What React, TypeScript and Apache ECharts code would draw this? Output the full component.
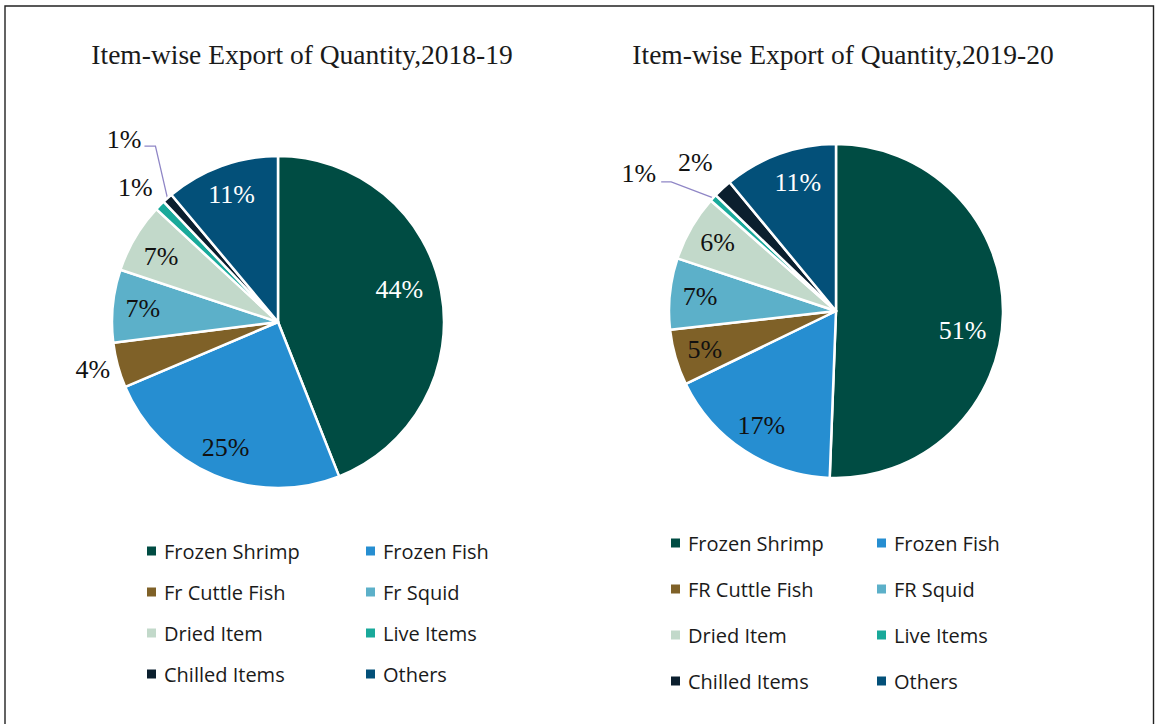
import React, { useEffect, useRef } from 'react';
import * as echarts from 'echarts';

const ITEMS_1819 = ['Frozen Shrimp', 'Frozen Fish', 'Fr Cuttle Fish', 'Fr Squid', 'Dried Item', 'Live Items', 'Chilled Items', 'Others'];
const ITEMS_1920 = ['Frozen Shrimp', 'Frozen Fish', 'FR Cuttle Fish', 'FR Squid', 'Dried Item', 'Live Items', 'Chilled Items', 'Others'];
const SHARE_1819 = [44.0, 24.6, 4.4, 7.1, 6.8, 1.0, 1.0, 11.1];
const SHARE_1920 = [50.6, 17.2, 5.4, 6.9, 6.4, 0.7, 1.8, 11.0];
const TITLE_1819 = 'Item-wise Export of Quantity,2018-19';
const TITLE_1920 = 'Item-wise Export of Quantity,2019-20';

const COLORS = ['#004c43', '#268ed1', '#7f6128', '#5cb0c9', '#c2d9ca', '#19a99a', '#0b1f2e', '#035079'];
const LABEL_COLORS = ['#ffffff', '#111111', '#111111', '#111111', '#111111', '#111111', '#111111', '#ffffff'];
const SERIF = '"Liberation Serif", "Times New Roman", serif';
const SANS = '"Open Sans", "Noto Sans", sans-serif';
const LEADER = '#8f86c6';

function mainPie(names: string[], values: number[], center: number[], R: number) {
  return {
    type: 'pie',
    center,
    radius: [0, R],
    startAngle: 90,
    clockwise: true,
    silent: true,
    label: { show: false },
    labelLine: { show: false },
    itemStyle: { borderColor: '#ffffff', borderWidth: 2.5 },
    emphasis: { disabled: true },
    data: names.map((n, i) => ({ name: n, value: values[i], itemStyle: { color: COLORS[i] } })),
  };
}

function labelPie(
  names: string[],
  values: number[],
  center: number[],
  R: number,
  outside: number[],
  lined: number[],
  layout: (p: any) => any
) {
  return {
    type: 'pie',
    center,
    radius: [R * 0.6, R],
    startAngle: 90,
    clockwise: true,
    silent: true,
    avoidLabelOverlap: false,
    itemStyle: { color: 'rgba(0,0,0,0)', borderWidth: 0 },
    emphasis: { disabled: true },
    label: {
      show: true,
      position: 'inside',
      formatter: (p: any) => Math.round(p.percent) + '%',
      fontFamily: SERIF,
      fontSize: 26,
      fontWeight: 'normal',
    },
    labelLine: { show: false, length: 10, length2: 0 },
    labelLayout: layout,
    data: names.map((n, i) => ({
      name: n,
      value: values[i],
      label: { color: LABEL_COLORS[i], position: outside.includes(i) ? 'outside' : 'inside' },
      labelLine: {
        show: lined.includes(i),
        length: 10,
        length2: 0,
        lineStyle: { color: LEADER, width: 1.3 },
      },
    })),
  };
}

const layout1819 = (p: any) => {
  const i = p.dataIndex;
  if (i === 0) return { dx: -12, dy: -7 };
  if (i === 2) return { dx: 7, dy: 2 };
  if (i === 4) return { dy: 4 };
  if (i === 5) return { dx: 5, dy: -11 };
  if (i === 6) {
    const a = p.labelLinePoints && p.labelLinePoints[0];
    if (!a) return {};
    return {
      x: a[0] - 26,
      y: a[1] - 59,
      align: 'right',
      verticalAlign: 'middle',
      labelLinePoints: [
        [a[0], a[1]],
        [a[0] - 12, a[1] - 52],
        [a[0] - 23, a[1] - 52],
      ],
    };
  }
  return {};
};

const layout1920 = (p: any) => {
  const i = p.dataIndex;
  if (i === 0) return { dx: -10, dy: 17 };
  if (i === 7) return { dx: 8 };
  if (i === 6) return { dx: 2, dy: -19 };
  if (i === 5) {
    const a = p.labelLinePoints && p.labelLinePoints[0];
    if (!a) return {};
    return {
      x: a[0] - 57,
      y: a[1] - 24,
      align: 'right',
      verticalAlign: 'middle',
      labelLinePoints: [
        [a[0], a[1]],
        [a[0] - 42, a[1] - 16],
        [a[0] - 52, a[1] - 16],
      ],
    };
  }
  return {};
};

const legendCommon = {
  orient: 'vertical',
  icon: 'rect',
  itemWidth: 9,
  itemHeight: 9,
  padding: 0,
  selectedMode: false,
  itemStyle: { borderWidth: 0 },
  textStyle: { fontFamily: SANS, fontSize: 20, color: '#1a1a1a', lineHeight: 20, padding: [0, 0, 0, 3] },
};

const titleStyle = { fontFamily: SERIF, fontSize: 27.5, fontWeight: 'normal', color: '#1a1a1a' };

export default function App() {
  const ref = useRef<HTMLDivElement>(null);

  useEffect(() => {
    document.body.style.margin = '0';
    if (!ref.current) return;
    const chart = echarts.init(ref.current, undefined, { renderer: 'svg' });
    const C1 = [278, 322];
    const R1 = 166;
    const C2 = [836, 311];
    const R2 = 167;
    chart.setOption({
      animation: false,
      backgroundColor: '#ffffff',
      title: [
        { text: TITLE_1819, left: 302, top: 40, textAlign: 'center', padding: 0, textStyle: titleStyle },
        { text: TITLE_1920, left: 843, top: 40, textAlign: 'center', padding: 0, textStyle: titleStyle },
      ],
      graphic: [
        {
          type: 'rect',
          shape: { x: 5, y: 6, width: 1148.5, height: 740 },
          style: { fill: 'none', stroke: '#222222', lineWidth: 1.4 },
          silent: true,
        },
      ],
      legend: [
        { ...legendCommon, data: [0, 2, 4, 6].map((i) => ITEMS_1819[i]), left: 147, top: 541, itemGap: 21 },
        { ...legendCommon, data: [1, 3, 5, 7].map((i) => ITEMS_1819[i]), left: 366, top: 541, itemGap: 21 },
        { ...legendCommon, data: [0, 2, 4, 6].map((i) => ITEMS_1920[i]), left: 671, top: 533, itemGap: 26 },
        { ...legendCommon, data: [1, 3, 5, 7].map((i) => ITEMS_1920[i]), left: 877, top: 533, itemGap: 26 },
      ],
      series: [
        mainPie(ITEMS_1819, SHARE_1819, C1, R1),
        mainPie(ITEMS_1920, SHARE_1920, C2, R2),
        labelPie(ITEMS_1819, SHARE_1819, C1, R1, [2, 5, 6], [6], layout1819),
        labelPie(ITEMS_1920, SHARE_1920, C2, R2, [5, 6], [5], layout1920),
      ],
    });
    return () => chart.dispose();
  }, []);

  return <div ref={ref} style={{ width: 1155, height: 724 }} />;
}
